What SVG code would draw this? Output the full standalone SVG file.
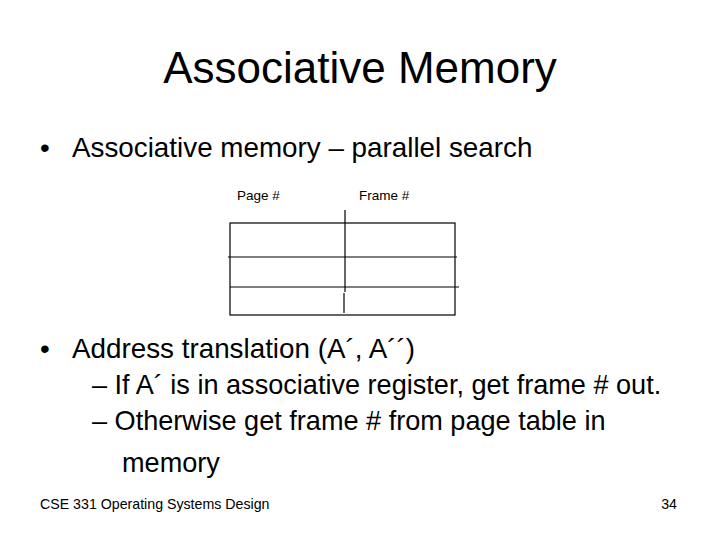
<svg xmlns="http://www.w3.org/2000/svg" width="720" height="540" viewBox="0 0 720 540">
<style>
text{font-family:"Liberation Sans",Arial,sans-serif;fill:#000}
.b{font-size:27.8px}
.c{font-size:27.1px}
.s{font-size:13.5px}
line,rect{stroke:#000;stroke-width:1.2;fill:none}
</style>
<rect width="720" height="540" fill="#fff" style="stroke:none"/>
<text x="360" y="83" font-size="44" text-anchor="middle">Associative Memory</text>
<text class="b" x="40" y="157">•</text>
<text class="b" x="72" y="157">Associative memory – parallel search</text>
<g id="table">
<text class="s" x="237" y="200">Page #</text>
<text class="s" x="359" y="200">Frame #</text>
<rect x="230" y="223" width="225" height="92"/>
<line x1="228" y1="257" x2="457" y2="257"/>
<line x1="230" y1="287" x2="459" y2="287"/>
<line x1="345" y1="210" x2="345" y2="292"/>
<line x1="344" y1="293" x2="344" y2="313"/>
</g>
<text class="b" x="40" y="358">•</text>
<text class="b" x="72" y="358">Address translation (A´, A´´)</text>
<text class="c" x="92" y="394">– If A´ is in associative register, get frame # out.</text>
<text class="c" x="92" y="430">– Otherwise get frame # from page table in</text>
<text class="c" x="122" y="472">memory</text>
<text x="40" y="509" font-size="14.2">CSE 331 Operating Systems Design</text>
<text x="677" y="509" text-anchor="end" font-size="14.2">34</text>
</svg>
